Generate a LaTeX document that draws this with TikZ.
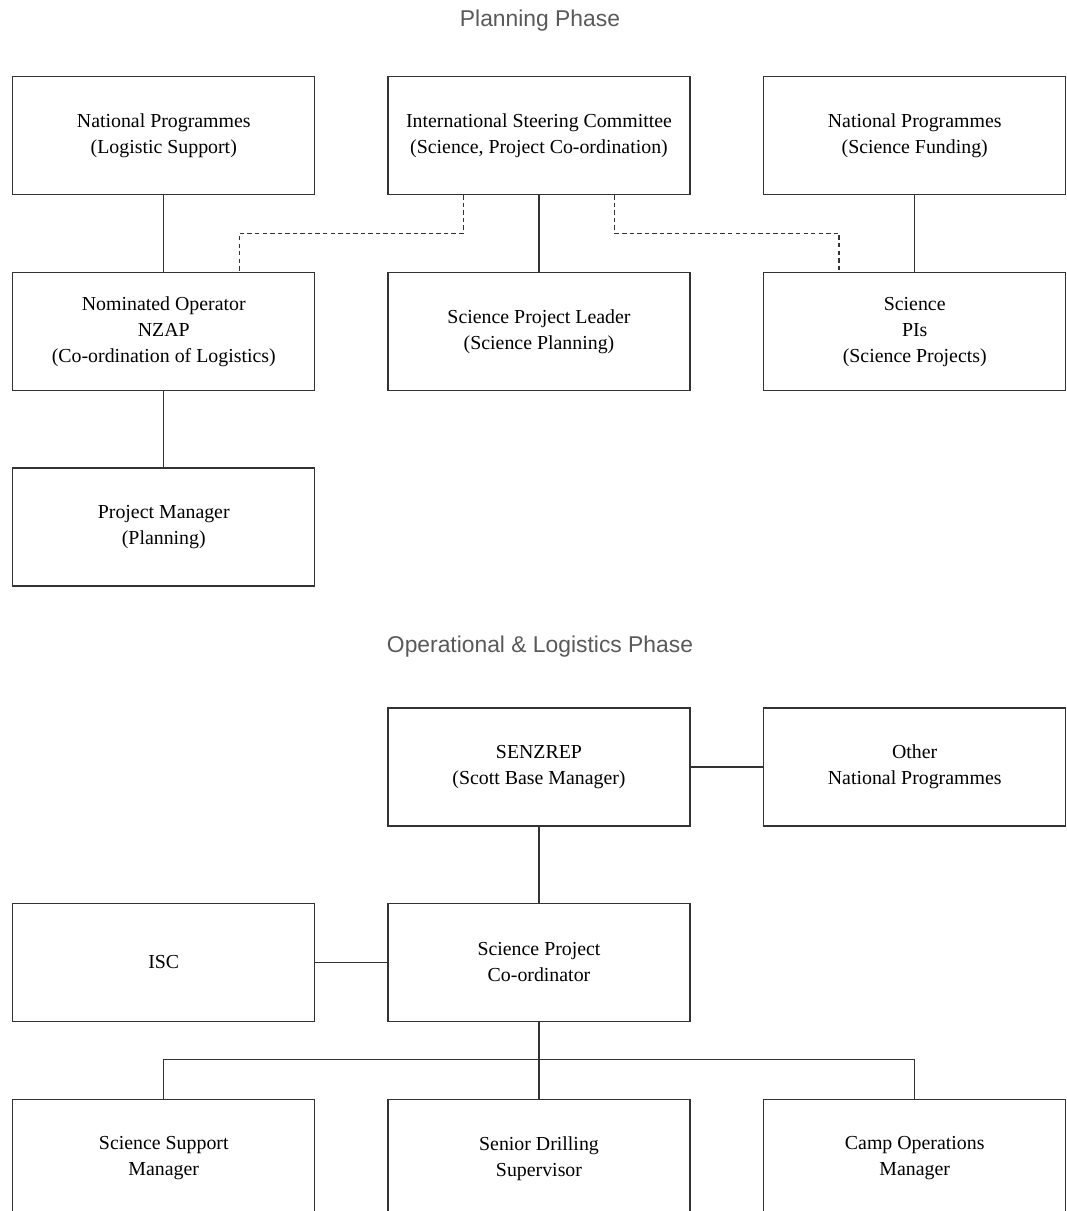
\documentclass[tikz,border=0pt]{standalone}
\usepackage{fontspec}
\setmainfont{Liberation Serif}
\newfontfamily\phasefont{Liberation Sans}
\usetikzlibrary{positioning, calc}

\begin{document}
\begin{tikzpicture}[
    unit/.style={rectangle, draw=black!80, line width=0.7pt, minimum width=6.04cm, minimum height=2.36cm, align=center, inner sep=2pt, font=\fontsize{11.3}{14.8}\selectfont},
    phase/.style={font=\phasefont\fontsize{13}{15}\selectfont, text=black!65},
    link/.style={draw=black!80, line width=0.7pt},
    dotlink/.style={link, dash pattern=on 2.5pt off 1.8pt}
]
\useasboundingbox (0,0) rectangle (21.32,-24.22);

% planning phase
\node[phase] (plan) at (10.8,-0.42) {Planning Phase};

\node[unit] (steer) at (10.78,-2.71) {International Steering Committee\\(Science, Project Co-ordination)};
\node[unit, left=1.44cm of steer] (nplog) {National Programmes\\(Logistic Support)};
\node[unit, right=1.45cm of steer] (npfund) {National Programmes\\(Science Funding)};
\node[unit, below=1.54cm of steer] (leader) {Science Project Leader\\(Science Planning)};
\node[unit, below=1.54cm of nplog] (nzap) {Nominated Operator\\NZAP\\(Co-ordination of Logistics)};
\node[unit, below=1.54cm of npfund] (pis) {Science\\PIs\\(Science Projects)};
\node[unit, below=1.52cm of nzap] (pm) {Project Manager\\(Planning)};

\draw[link] (nplog) -- (nzap);
\draw[link] (steer) -- (leader);
\draw[link] (npfund) -- (pis);
\draw[link] (nzap) -- (pm);

\coordinate (dl) at ($(steer.south west)!0.25!(steer.south east)$);
\coordinate (dr) at ($(steer.south west)!0.75!(steer.south east)$);
\coordinate (nzk) at ($(nzap.north west)!0.75!(nzap.north east)$);
\coordinate (pik) at ($(pis.north west)!0.25!(pis.north east)$);
\draw[dotlink] (dl) -- ++(0,-0.76) -| (nzk);
\draw[dotlink] (dr) -- ++(0,-0.76) -| (pik);

% operational phase
\node[phase] (oper) at (10.8,-12.94) {Operational \& Logistics Phase};

\node[unit] (senzrep) at (10.78,-15.34) {SENZREP\\(Scott Base Manager)};
\node[unit, right=1.45cm of senzrep] (othernp) {Other\\National Programmes};
\node[unit, below=1.52cm of senzrep] (spc) {Science Project\\Co-ordinator};
\node[unit, left=1.44cm of spc] (isc) {ISC};
\node[unit, below=1.54cm of spc] (sds) {Senior Drilling\\Supervisor};
\node[unit, left=1.44cm of sds] (ssm) {Science Support\\Manager};
\node[unit, right=1.45cm of sds] (com) {Camp Operations\\Manager};

\draw[link] (senzrep) -- (othernp);
\draw[link] (senzrep) -- (spc);
\draw[link] (isc) -- (spc);
\draw[link] (spc) -- (sds);
\draw[link] (ssm.north) -- ++(0,0.78) -| (com.north);

\end{tikzpicture}
\end{document}
